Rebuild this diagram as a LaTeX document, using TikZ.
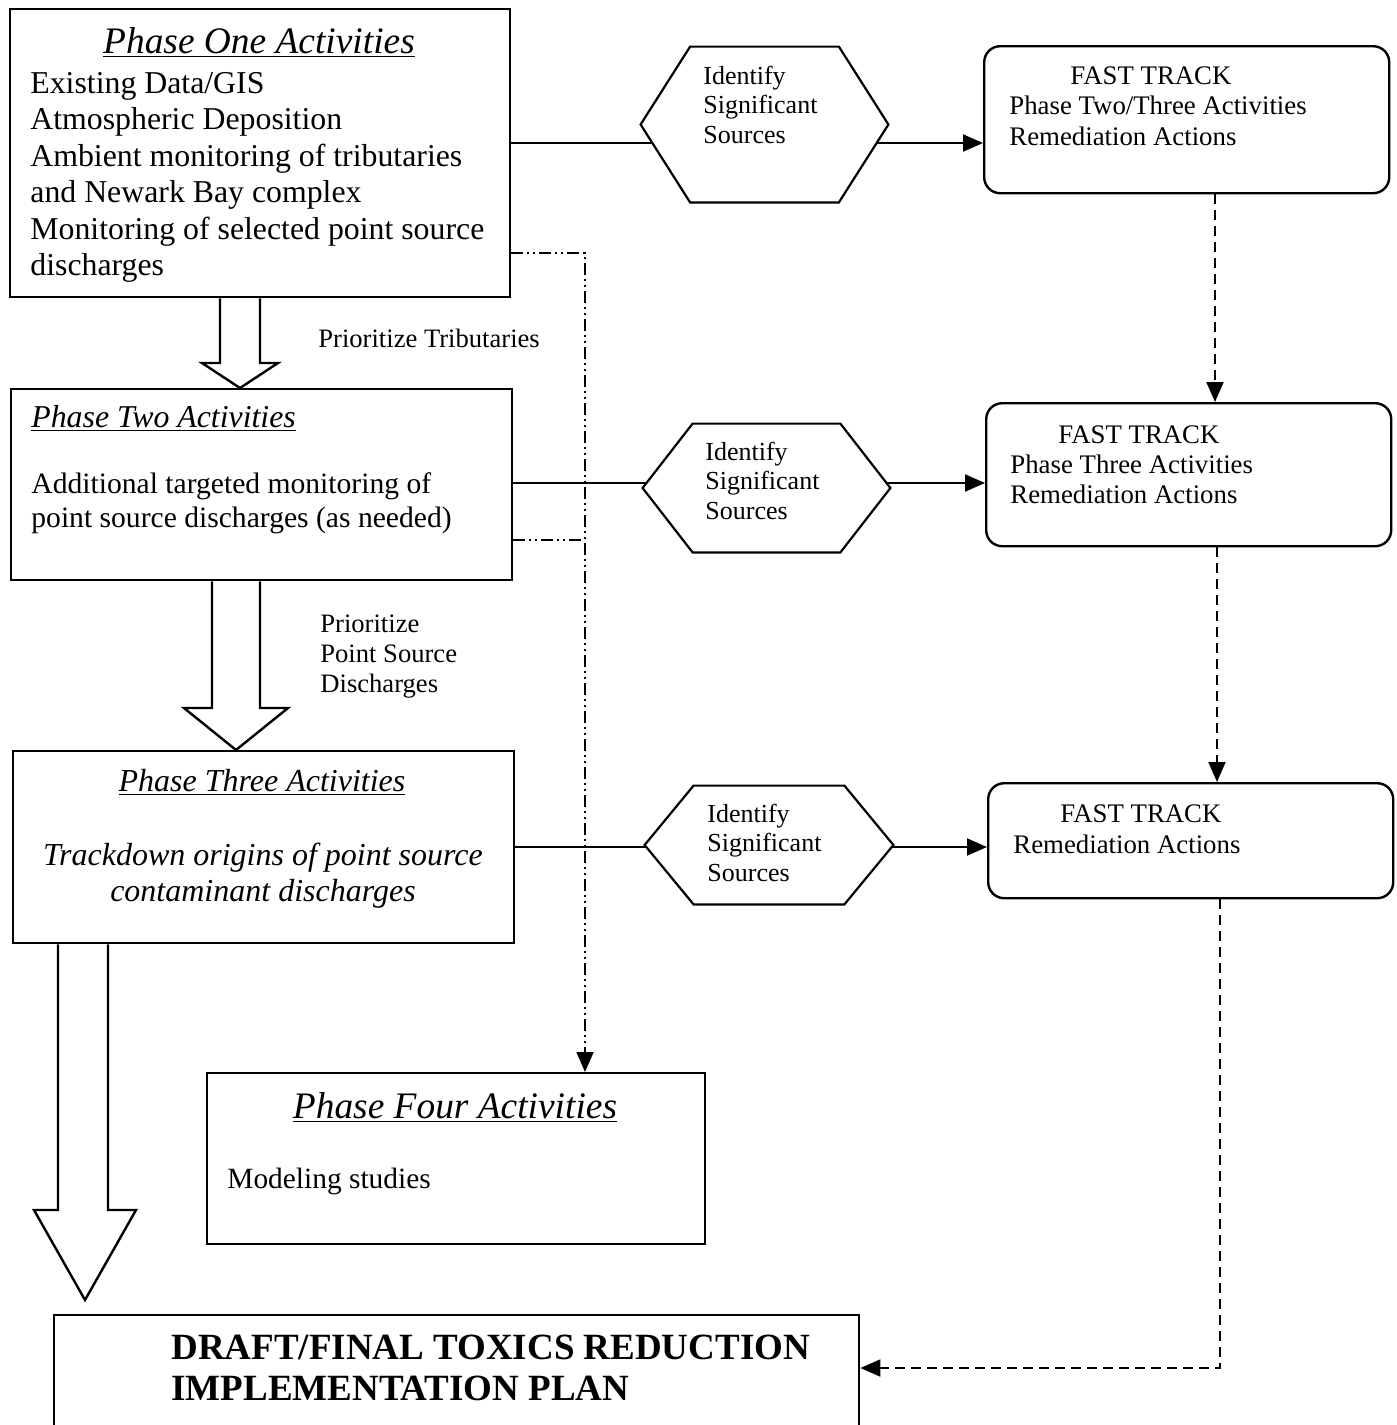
\documentclass[tikz,border=0pt]{standalone}
\usepackage{fontspec}
\setmainfont{Liberation Serif}
\usetikzlibrary{arrows.meta, backgrounds}

\begin{document}
\begin{tikzpicture}[x=0.5pt, y=-0.5pt,
        box/.style={draw, line width=1.2pt, inner sep=0pt, anchor=north west},
        fastbox/.style={box, rounded corners=8pt},
        hexbox/.style={inner sep=0pt},
        hexline/.style={draw, fill=white, line width=1.1pt, line join=miter},
        txt/.style={inner sep=0pt, anchor=base west, align=left},
        link/.style={line width=1pt},
        flow/.style={link, -{Triangle[length=10pt, width=8.5pt]}},
        fastflow/.style={flow, dash pattern=on 5pt off 3pt},
        altflow/.style={flow, line width=0.8pt, dash pattern=on 6pt off 2pt on 1pt off 2pt on 1pt off 2pt},
        blockarrow/.style={line width=1.2pt, fill=white, line join=miter}
    ]
        \useasboundingbox (0,0) rectangle (1397,1425);

        % phase boxes
        \node[box, minimum width=250pt, minimum height=144pt]    (p1)  at (9,8)      {};
        \node[box, minimum width=250.5pt, minimum height=95.5pt] (p2)  at (10,388)   {};
        \node[box, minimum width=250.5pt, minimum height=96pt]   (p3)  at (12,750)   {};
        \node[box, minimum width=249pt, minimum height=85.5pt]   (p4)  at (206,1072) {};
        \node[box, minimum width=402.5pt, minimum height=75pt]   (fin) at (53,1314)  {};

        % fast track boxes
        \node[fastbox, minimum width=202.5pt, minimum height=73.5pt] (ft1) at (983,45)  {};
        \node[fastbox, minimum width=202.5pt, minimum height=71.5pt] (ft2) at (985,402) {};
        \node[fastbox, minimum width=202.5pt, minimum height=57.5pt] (ft3) at (987,782) {};

        % identify hexagons
        \node[hexbox, minimum width=123.5pt, minimum height=77.5pt] (h1) at (764.5,124.5) {};
        \node[hexbox, minimum width=123.5pt, minimum height=64pt]   (h2) at (766.5,488)   {};
        \node[hexbox, minimum width=124pt, minimum height=59pt]     (h3) at (769,845)     {};
        \foreach \h/\c in {h1/24.75pt, h2/25pt, h3/24.5pt}
            \draw[hexline] ([xshift=\c]\h.north west) -- ([xshift=-\c]\h.north east) -- (\h.east)
                -- ([xshift=-\c]\h.south east) -- ([xshift=\c]\h.south west) -- (\h.west) -- cycle;

        % texts (base = last line)
        \node[txt, anchor=base, font=\fontsize{18.7}{20}\selectfont] (p1t) at (259,53) {\underline{\textit{Phase One Activities}}};
        \node[txt, font=\fontsize{15.9}{18.25}\selectfont] (p1b) at (30,275.5)
            {Existing Data/GIS\\Atmospheric Deposition\\Ambient monitoring of tributaries\\and Newark Bay complex\\Monitoring of selected point source\\discharges};
        \node[txt, font=\fontsize{15.9}{18}\selectfont] (p2t) at (31,427) {\underline{\textit{Phase Two Activities}}};
        \node[txt, font=\fontsize{14.8}{17}\selectfont] (p2b) at (31,527)
            {Additional targeted monitoring of\\point source discharges (as needed)};
        \node[txt, anchor=base, font=\fontsize{16}{18}\selectfont] (p3t) at (262,791) {\underline{\textit{Phase Three Activities}}};
        \node[txt, anchor=base, align=center, font=\fontsize{16}{18}\itshape] (p3b) at (263,901)
            {Trackdown origins of point source\\contaminant discharges};
        \node[txt, anchor=base, font=\fontsize{18.7}{20}\selectfont] (p4t) at (455,1118) {\underline{\textit{Phase Four Activities}}};
        \node[txt, font=\fontsize{14.7}{17}\selectfont] (p4b) at (227,1188) {Modeling studies};
        \node[txt, font=\fontsize{18.5}{20.5}\bfseries] (fint) at (171,1400)
            {DRAFT/FINAL TOXICS REDUCTION\\IMPLEMENTATION PLAN};

        \node[txt, font=\fontsize{13}{14.7}\selectfont] (h1t) at (703,143) {Identify\\Significant\\Sources};
        \node[txt, font=\fontsize{13}{14.7}\selectfont] (h2t) at (705,519) {Identify\\Significant\\Sources};
        \node[txt, font=\fontsize{13}{14.7}\selectfont] (h3t) at (707,881) {Identify\\Significant\\Sources};

        \node[txt, font=\fontsize{13.4}{15.5}\selectfont] (ft1t) at (1070,84)  {FAST TRACK};
        \node[txt, font=\fontsize{13.4}{15.5}\selectfont] (ft1b) at (1009,145) {Phase Two/Three Activities\\Remediation Actions};
        \node[txt, font=\fontsize{13.4}{15}\selectfont] (ft2t) at (1058,443) {FAST TRACK};
        \node[txt, font=\fontsize{13.4}{15}\selectfont] (ft2b) at (1010,503) {Phase Three Activities\\Remediation Actions};
        \node[txt, font=\fontsize{13.4}{15}\selectfont] (ft3t) at (1060,822) {FAST TRACK};
        \node[txt, font=\fontsize{13.4}{15}\selectfont] (ft3b) at (1013,853) {Remediation Actions};

        \node[txt, font=\fontsize{13.3}{15}\selectfont] (pr1) at (318,347) {Prioritize Tributaries};
        \node[txt, font=\fontsize{13.3}{15}\selectfont] (pr2) at (320,692) {Prioritize\\Point Source\\Discharges};

        % links (under the hexagons)
        \begin{scope}[on background layer]
            \draw[link] (p1.east |- 0,143) -- (h1.center |- 0,143);
            \draw[flow] (h1.center |- 0,143) -- (ft1.west |- 0,143);
            \draw[link] (p2.east |- 0,483) -- (h2.center |- 0,483);
            \draw[flow] (h2.center |- 0,483) -- (ft2.west |- 0,483);
            \draw[link] (p3.east |- 0,847) -- (h3.center |- 0,847);
            \draw[flow] (h3.center |- 0,847) -- (ft3.west |- 0,847);
        \end{scope}

        % fast track
        \draw[fastflow] (1215,0 |- ft1.south) -- (1215,0 |- ft2.north);
        \draw[fastflow] (1217,0 |- ft2.south) -- (1217,0 |- ft3.north);
        \draw[fastflow] (1220,0 |- ft3.south) |- (fin.east |- 0,1368);

        % phase four
        \draw[altflow] (p1.east |- 0,253) -| (585,0 |- p4.north);
        \draw[altflow, -] (p2.east |- 0,540) -- (585,540);

        % block arrows
        \draw[blockarrow] (220,0 |- p1.south) -- (220,363) -- (202,363) -- (240,0 |- p2.north)
            -- (278,363) -- (260,363) -- (260,0 |- p1.south);
        \draw[blockarrow] (212,0 |- p2.south) -- (212,708) -- (184,708) -- (236,0 |- p3.north)
            -- (288,708) -- (260,708) -- (260,0 |- p2.south);
        \draw[blockarrow] (58,0 |- p3.south) -- (58,1210) -- (34,1210) -- (85,1300)
            -- (136,1210) -- (108,1210) -- (108,0 |- p3.south);

    \end{tikzpicture}
\end{document}
